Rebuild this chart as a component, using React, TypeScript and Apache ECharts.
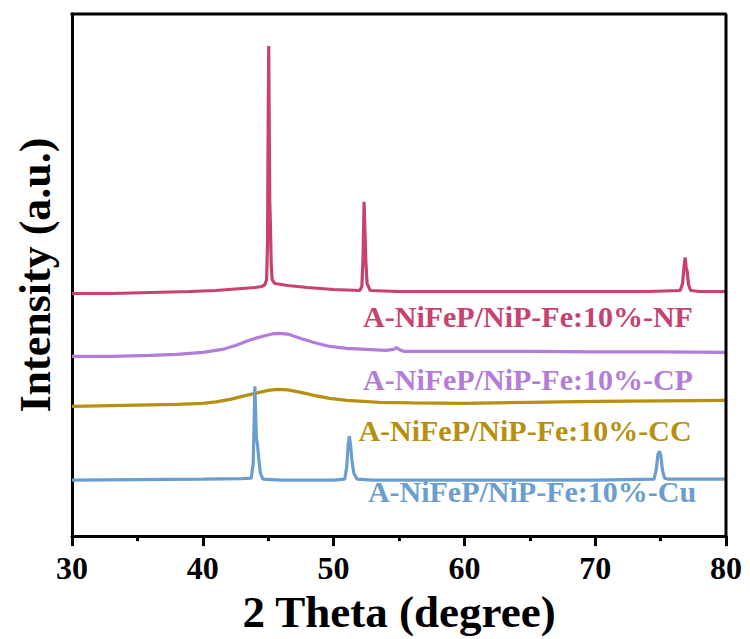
import React, { useEffect, useRef } from "react";
import * as echarts from "echarts";

const xTicks = [30, 40, 50, 60, 70, 80];
const yRange = [0, 523];
const seriesNames = [
  "A-NiFeP/NiP-Fe:10%-NF",
  "A-NiFeP/NiP-Fe:10%-CP",
  "A-NiFeP/NiP-Fe:10%-CC",
  "A-NiFeP/NiP-Fe:10%-Cu",
];
const seriesColors = ["#C7426F", "#B47CD9", "#B8900F", "#6B9ED0"];

const nfData = [
  [30, 243], [33, 243], [36, 244], [39, 245], [41, 246], [42, 247], [43, 248], [44, 249], [44.5, 250],
  [44.75, 252], [44.88, 257], [44.95, 295], [45.0, 420], [45.04, 491], [45.08, 410], [45.12, 335],
  [45.17, 312], [45.23, 272], [45.3, 257], [45.5, 253], [46.5, 251], [48, 249], [50, 247], [52, 246],
  [52.16, 250], [52.25, 278], [52.33, 335], [52.41, 300], [52.47, 274], [52.56, 253], [52.8, 246],
  [55, 245], [60, 245], [65, 245], [70, 245], [74, 245], [76.5, 246], [76.68, 253], [76.8, 271],
  [76.88, 279], [76.96, 268], [77.03, 266], [77.13, 252], [77.3, 246], [78, 245], [80, 245],
];
const cpData = [
  [30, 180], [33, 180], [36, 181], [38, 182], [40, 184], [41.5, 187], [42.5, 191], [43.5, 196],
  [44.5, 200], [45.3, 202.5], [45.9, 203], [46.6, 202], [47.5, 198], [48.5, 194], [49.7, 190],
  [51, 188], [52.5, 187], [54, 186], [54.6, 187], [54.8, 189], [55.0, 187], [55.4, 185], [57, 185],
  [60, 185], [65, 185], [70, 184.5], [75, 184.5], [80, 184],
];
const ccData = [
  [30, 130], [34, 131], [38, 132], [40, 133], [41, 134.5], [42.1, 137], [43, 140], [44, 143], [45, 146],
  [45.7, 147], [46.5, 146.5], [47.5, 144], [48.5, 141], [49.7, 138], [51, 136], [53.5, 134],
  [56, 133.5], [60, 133], [65, 134], [70, 135], [75, 135.5], [80, 136],
];
const cuData = [
  [30, 56], [35, 56.5], [40, 57], [43, 57.5], [43.7, 58], [43.85, 72], [43.92, 112], [43.98, 150],
  [44.04, 125], [44.1, 97], [44.18, 92], [44.26, 80], [44.4, 63], [44.6, 57], [46, 56], [50, 56],
  [50.85, 57], [51.0, 69], [51.12, 92], [51.2, 100], [51.3, 91], [51.4, 76], [51.55, 63], [51.8, 57],
  [53, 56], [60, 56], [70, 56], [74.5, 57], [74.66, 66], [74.8, 82], [74.92, 85], [75.03, 80],
  [75.14, 66], [75.3, 58], [75.6, 57], [80, 57],
];
const allData = [nfData, cpData, ccData, cuData];
const labelPos = [
  [528, 316],
  [528, 379],
  [525, 430],
  [532, 491],
];

const FONT = "'Liberation Serif', 'Times New Roman', serif";
const black = { color: "#000", width: 3 };
const W = 750;
const H = 639;
const G = { left: 72, right: 24, top: 14, bottom: 102 };

export default function App() {
  const ref = useRef<HTMLDivElement>(null);
  useEffect(() => {
    document.body.style.margin = "0";
    if (!ref.current) return;
    const chart = echarts.init(ref.current, null, { renderer: "svg" });
    const xMin = xTicks[0];
    const xMax = xTicks[xTicks.length - 1];
    const frameData = [
      [xMin, yRange[1]],
      [xMax, yRange[1]],
      [xMax, yRange[0]],
    ];
    chart.setOption({
      animation: false,
      backgroundColor: "#ffffff",
      grid: { ...G },
      xAxis: {
        type: "value",
        min: xMin,
        max: xMax,
        interval: 10,
        axisLine: { show: true, onZero: false, lineStyle: black },
        axisTick: { show: true, length: 10, lineStyle: black },
        minorTick: { show: true, splitNumber: 2, length: 5, lineStyle: black },
        splitLine: { show: false },
        axisLabel: {
          color: "#000",
          fontFamily: FONT,
          fontWeight: "bold",
          fontSize: 32,
          margin: 16,
        },
        name: "2 Theta (degree)",
        nameLocation: "middle",
        nameGap: 44,
        nameTextStyle: { color: "#000", fontFamily: FONT, fontWeight: "bold", fontSize: 45 },
      },
      yAxis: {
        type: "value",
        min: yRange[0],
        max: yRange[1],
        axisLine: { show: true, onZero: false, lineStyle: black },
        axisTick: { show: false },
        axisLabel: { show: false },
        splitLine: { show: false },
        name: "Intensity (a.u.)",
        nameLocation: "middle",
        nameGap: 15,
        nameTextStyle: { color: "#000", fontFamily: FONT, fontWeight: "bold", fontSize: 44 },
      },
      series: [
        ...allData.map((d, i) => ({
          name: seriesNames[i],
          type: "line",
          data: d,
          showSymbol: false,
          symbol: "none",
          smooth: false,
          lineStyle: { color: seriesColors[i], width: 3.2 },
          z: 2 + i,
        })),
        {
          name: "frame",
          type: "line",
          data: frameData,
          showSymbol: false,
          symbol: "none",
          clip: false,
          silent: true,
          lineStyle: { color: "#000", width: 3, cap: "square" },
          z: 20,
        },
      ],
      graphic: seriesNames.map((n, i) => ({
        id: "lbl" + i,
        type: "text",
        x: labelPos[i][0],
        y: labelPos[i][1],
        style: {
          text: n,
          fill: seriesColors[i],
          font: `bold 30px ${FONT}`,
          textAlign: "center",
          textVerticalAlign: "middle",
        },
      })),
    });
    return () => chart.dispose();
  }, []);
  return <div ref={ref} style={{ width: W, height: H }} />;
}
